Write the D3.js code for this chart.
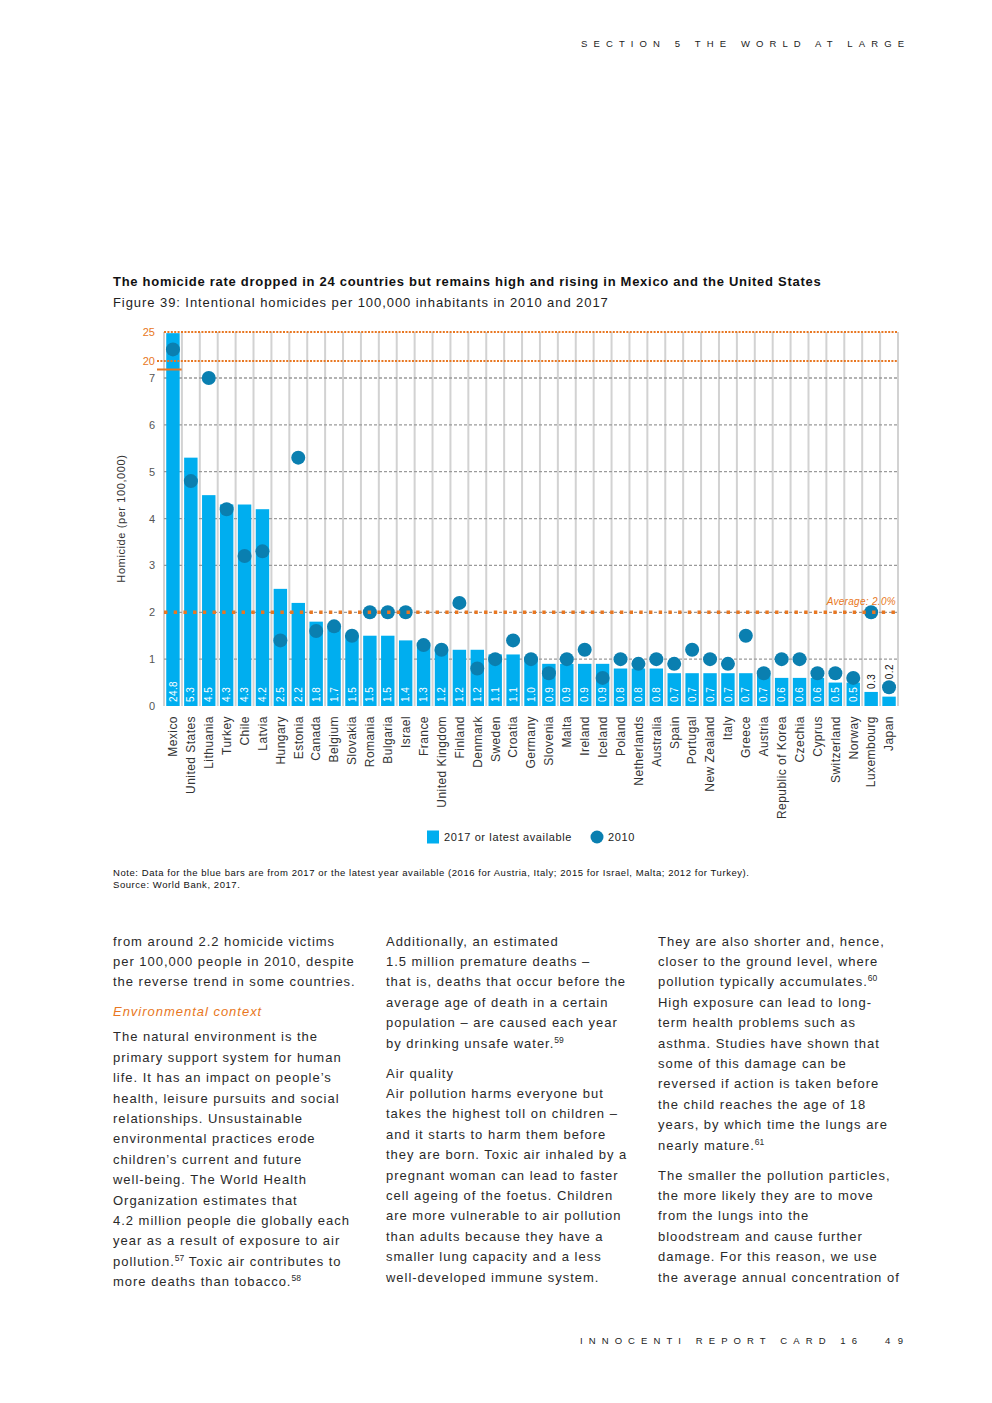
<!DOCTYPE html>
<html lang="en">
<head>
<meta charset="UTF-8">
<title>Homicide rate 2010 and 2017</title>
<script src="https://d3js.org/d3.v7.min.js"></script>
<style>
  body { margin: 0; background: #fff; }
  svg { display: block; font-family: "Liberation Sans", Arial, Helvetica, sans-serif; }
</style>
</head>
<body>
<svg id="page" width="992" height="1403"></svg>
<script>
// data
var countries = ["Mexico", "United States", "Lithuania", "Turkey", "Chile", "Latvia", "Hungary",
  "Estonia", "Canada", "Belgium", "Slovakia", "Romania", "Bulgaria", "Israel", "France",
  "United Kingdom", "Finland", "Denmark", "Sweden", "Croatia", "Germany", "Slovenia", "Malta",
  "Ireland", "Iceland", "Poland", "Netherlands", "Australia", "Spain", "Portugal", "New Zealand",
  "Italy", "Greece", "Austria", "Republic of Korea", "Czechia", "Cyprus", "Switzerland", "Norway",
  "Luxembourg", "Japan"];
var rate2017 = [24.8, 5.3, 4.5, 4.3, 4.3, 4.2, 2.5, 2.2, 1.8, 1.7, 1.5, 1.5, 1.5, 1.4, 1.3,
  1.2, 1.2, 1.2, 1.1, 1.1, 1.0, 0.9, 0.9, 0.9, 0.9, 0.8, 0.8, 0.8, 0.7, 0.7, 0.7,
  0.7, 0.7, 0.7, 0.6, 0.6, 0.6, 0.5, 0.5, 0.3, 0.2];
var rate2010 = [22.0, 4.8, 7.0, 4.2, 3.2, 3.3, 1.4, 5.3, 1.6, 1.7, 1.5, 2.0, 2.0, 2.0, 1.3,
  1.2, 2.2, 0.8, 1.0, 1.4, 1.0, 0.7, 1.0, 1.2, 0.6, 1.0, 0.9, 1.0, 0.9, 1.2, 1.0,
  0.9, 1.5, 0.7, 1.0, 1.0, 0.7, 0.7, 0.6, 2.0, 0.4];
var yTicks = [0, 1, 2, 3, 4, 5, 6, 7, 20, 25];
var brokenTicks = [20, 25];
var average = 2.0;

var blue = "#00aeef", dark = "#0a7fb0", orange = "#e87722", grey = "#555";

var svg = d3.select("#page");
var data = countries.map(function (c, i) { return { name: c, v17: rate2017[i], v10: rate2010[i] }; });

// scales -- y axis is broken between 7 and 20
var left = 164, right = 898, bottom = 706;
var x = d3.scaleBand().domain(countries).range([left, right]).paddingInner(0.25).paddingOuter(0.125);
var y = d3.scaleLinear().domain([0, 7, 20, 25]).range([bottom, 378, 361, 332]);
var r = 7;

// page header / footer
svg.append("text").attr("x", 581).attr("y", 47).attr("textLength", 323)
  .style("font-size", "9.5px").style("fill", "#222")
  .text("SECTION 5 THE WORLD AT LARGE");
svg.append("text").attr("x", 580).attr("y", 1344).attr("textLength", 277)
  .style("font-size", "9.5px").style("fill", "#222")
  .text("INNOCENTI REPORT CARD 16");
svg.append("text").attr("x", 885).attr("y", 1344).attr("textLength", 18)
  .style("font-size", "9.5px").style("fill", "#222")
  .text("49");

// titles
svg.append("text").attr("x", 113).attr("y", 286)
  .style("font-size", "13px").style("font-weight", "bold").style("letter-spacing", "0.72px")
  .style("fill", "#111")
  .text("The homicide rate dropped in 24 countries but remains high and rising in Mexico and the United States");
svg.append("text").attr("x", 113).attr("y", 306.5)
  .style("font-size", "13px").style("letter-spacing", "0.93px").style("fill", "#222")
  .text("Figure 39: Intentional homicides per 100,000 inhabitants in 2010 and 2017");

// vertical separators between bars
var edges = d3.range(countries.length + 1).map(function (k) { return left + k * x.step(); });
svg.append("g").selectAll("line").data(edges).enter().append("line")
  .attr("x1", function (d) { return d; }).attr("x2", function (d) { return d; })
  .attr("y1", y(25)).attr("y2", bottom)
  .style("stroke", "#d2d2d2").style("stroke-width", 2);

// horizontal grid
svg.append("g").selectAll("line").data(yTicks.filter(function (t) { return t > 0 && t <= 7; }))
  .enter().append("line")
  .attr("x1", left).attr("x2", right)
  .attr("y1", function (d) { return y(d); }).attr("y2", function (d) { return y(d); })
  .style("stroke", "#9a9a9a").style("stroke-width", 1.3).style("stroke-dasharray", "3,2");

// bars
svg.append("g").selectAll("rect").data(data).enter().append("rect")
  .attr("x", function (d) { return x(d.name); })
  .attr("width", x.bandwidth())
  .attr("y", function (d) { return y(d.v17); })
  .attr("height", function (d) { return bottom - y(d.v17); })
  .style("fill", blue);

// broken axis lines (20, 25) and break marker
svg.append("g").selectAll("line").data(brokenTicks).enter().append("line")
  .attr("x1", function (d) { return d === 20 ? 157 : left; }).attr("x2", right)
  .attr("y1", function (d) { return y(d); }).attr("y2", function (d) { return y(d); })
  .style("stroke", orange).style("stroke-width", 2).style("stroke-dasharray", "2,1.4");
var yBreak = (y(7) + y(20)) / 2;
svg.append("line").attr("x1", 157).attr("x2", x("Mexico") + x.bandwidth() + 2)
  .attr("y1", yBreak).attr("y2", yBreak)
  .style("stroke", orange).style("stroke-width", 2);

// bar value labels (short bars get their label on top, above the dot if it sits there)
var fmt = d3.format(".1f");
svg.append("g").selectAll("text").data(data).enter().append("text")
  .each(function (d) {
    var cx = x(d.name) + x.bandwidth() / 2;
    var inside = bottom - y(d.v17) > 20;
    var start;
    if (inside) {
      start = bottom - 4;
    } else {
      start = y(d.v17) - 3;
      if (y(d.v10) + r >= y(d.v17) - 8) start = Math.min(start, y(d.v10) - r - 1);
    }
    d3.select(this)
      .attr("transform", "translate(" + cx + "," + start + ") rotate(-90)")
      .attr("dy", "0.36em")
      .style("fill", inside ? "#fff" : "#111");
  })
  .style("font-size", "10px").style("letter-spacing", "0.4px")
  .text(function (d) { return fmt(d.v17); });

// 2010 dots
svg.append("g").selectAll("circle").data(data).enter().append("circle")
  .attr("cx", function (d) { return x(d.name) + x.bandwidth() / 2; })
  .attr("cy", function (d) { return y(d.v10); })
  .attr("r", r)
  .style("fill", dark);

// average line
svg.append("line").attr("x1", left).attr("x2", right)
  .attr("y1", y(average)).attr("y2", y(average))
  .style("stroke", orange).style("stroke-width", 3.4).style("stroke-dasharray", "3.4,6.3");
svg.append("text").attr("x", 896).attr("y", y(average) - 7)
  .attr("text-anchor", "end")
  .style("font-size", "10px").style("font-style", "italic").style("letter-spacing", "0.3px")
  .style("fill", orange)
  .text("Average: " + fmt(average) + "%");

// y axis
var yAxis = svg.append("g").attr("transform", "translate(" + left + ",0)")
  .call(d3.axisLeft(y).tickValues(yTicks).tickSize(0).tickPadding(9).tickFormat(d3.format("d")));
yAxis.select(".domain").remove();
yAxis.selectAll("text")
  .style("font-size", "11px").style("font-family", "Liberation Sans, Arial, sans-serif")
  .style("fill", function (d) { return brokenTicks.indexOf(d) >= 0 ? orange : grey; });

svg.append("text")
  .attr("transform", "translate(125," + (y(1) + y(7)) / 2 + ") rotate(-90)")
  .attr("text-anchor", "middle")
  .style("font-size", "11px").style("letter-spacing", "0.6px").style("fill", "#333")
  .text("Homicide (per 100,000)");

// x axis
var xAxis = svg.append("g").attr("transform", "translate(0," + bottom + ")")
  .call(d3.axisBottom(x).tickSize(0));
xAxis.select(".domain").remove();
xAxis.selectAll("text")
  .attr("transform", "rotate(-90)")
  .attr("x", -10).attr("y", 0).attr("dy", "0.36em")
  .style("text-anchor", "end")
  .style("font-size", "12px").style("letter-spacing", "0.45px")
  .style("font-family", "Liberation Sans, Arial, sans-serif")
  .style("fill", "#333");

// legend
var legend = svg.append("g").attr("transform", "translate(427,837)");
legend.append("rect").attr("x", 0).attr("y", -6.5).attr("width", 12).attr("height", 13).style("fill", blue);
legend.append("text").attr("x", 17).attr("dy", "0.35em")
  .style("font-size", "11px").style("letter-spacing", "0.62px").style("fill", "#222")
  .text("2017 or latest available");
legend.append("circle").attr("cx", 170).attr("cy", 0).attr("r", 6.5).style("fill", dark);
legend.append("text").attr("x", 181).attr("dy", "0.35em")
  .style("font-size", "11px").style("letter-spacing", "0.62px").style("fill", "#222")
  .text("2010");

// note
svg.append("text").attr("x", 113).attr("y", 876)
  .style("font-size", "9.5px").style("letter-spacing", "0.56px").style("fill", "#111")
  .text("Note: Data for the blue bars are from 2017 or the latest year available (2016 for Austria, Italy; 2015 for Israel, Malta; 2012 for Turkey).");
svg.append("text").attr("x", 113).attr("y", 888)
  .style("font-size", "9.5px").style("letter-spacing", "0.56px").style("fill", "#111")
  .text("Source: World Bank, 2017.");

// body text, three columns. gap = extra space before the line, ^n^ = footnote
var col1 = [
  { t: "from around 2.2 homicide victims" },
  { t: "per 100,000 people in 2010, despite" },
  { t: "the reverse trend in some countries." },
  { t: "Environmental context", gap: 9.6, head: true },
  { t: "The natural environment is the", gap: 4.6 },
  { t: "primary support system for human" },
  { t: "life. It has an impact on people\u2019s" },
  { t: "health, leisure pursuits and social" },
  { t: "relationships. Unsustainable" },
  { t: "environmental practices erode" },
  { t: "children\u2019s current and future" },
  { t: "well-being. The World Health" },
  { t: "Organization estimates that" },
  { t: "4.2 million people die globally each" },
  { t: "year as a result of exposure to air" },
  { t: "pollution.^57^ Toxic air contributes to" },
  { t: "more deaths than tobacco.^58^" }
];
var col2 = [
  { t: "Additionally, an estimated" },
  { t: "1.5 million premature deaths \u2013" },
  { t: "that is, deaths that occur before the" },
  { t: "average age of death in a certain" },
  { t: "population \u2013 are caused each year" },
  { t: "by drinking unsafe water.^59^" },
  { t: "Air quality", gap: 9.6 },
  { t: "Air pollution harms everyone but" },
  { t: "takes the highest toll on children \u2013" },
  { t: "and it starts to harm them before" },
  { t: "they are born. Toxic air inhaled by a" },
  { t: "pregnant woman can lead to faster" },
  { t: "cell ageing of the foetus. Children" },
  { t: "are more vulnerable to air pollution" },
  { t: "than adults because they have a" },
  { t: "smaller lung capacity and a less" },
  { t: "well-developed immune system." }
];
var col3 = [
  { t: "They are also shorter and, hence," },
  { t: "closer to the ground level, where" },
  { t: "pollution typically accumulates.^60^" },
  { t: "High exposure can lead to long-" },
  { t: "term health problems such as" },
  { t: "asthma. Studies have shown that" },
  { t: "some of this damage can be" },
  { t: "reversed if action is taken before" },
  { t: "the child reaches the age of 18" },
  { t: "years, by which time the lungs are" },
  { t: "nearly mature.^61^" },
  { t: "The smaller the pollution particles,", gap: 9.6 },
  { t: "the more likely they are to move" },
  { t: "from the lungs into the" },
  { t: "bloodstream and cause further" },
  { t: "damage. For this reason, we use" },
  { t: "the average annual concentration of" }
];

function drawColumn(lines, x0) {
  var yy = 945.5 - 20.4;
  lines.forEach(function (ln) {
    yy += 20.4 + (ln.gap || 0);
    var t = svg.append("text").attr("x", x0).attr("y", yy)
      .style("font-size", "13px").style("letter-spacing", "0.98px")
      .style("fill", ln.head ? orange : "#2a2a2a")
      .style("font-style", ln.head ? "italic" : "normal");
    var shifted = false;
    ln.t.split("^").forEach(function (part, i) {
      if (!part) return;
      var sp = t.append("tspan").text(part);
      if (i % 2 === 1) {
        sp.attr("dy", -5).style("font-size", "8.5px").style("letter-spacing", "0px");
        shifted = true;
      } else if (shifted) {
        sp.attr("dy", 5);
        shifted = false;
      }
    });
  });
}
drawColumn(col1, 113);
drawColumn(col2, 386);
drawColumn(col3, 658);
</script>
</body>
</html>
